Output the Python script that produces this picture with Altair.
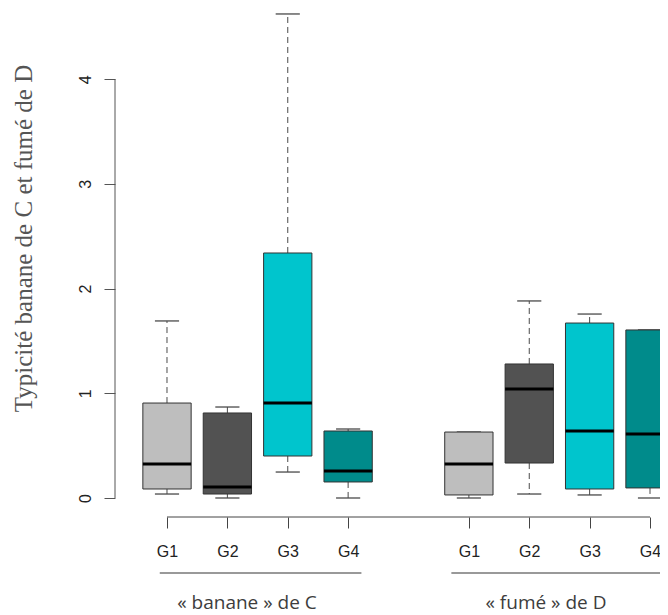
import altair as alt
import pandas as pd

# ---- data ----
groups = ["G1", "G2", "G3", "G4", "G1", "G2", "G3", "G4"]
positions = [1, 2, 3, 4, 6, 7, 8, 9]
lower_whisker = [0.038, 0.000, 0.248, 0.000, 0.000, 0.038, 0.029, 0.000]
q1 = [0.086, 0.038, 0.401, 0.153, 0.029, 0.334, 0.086, 0.096]
median = [0.325, 0.105, 0.907, 0.258, 0.325, 1.041, 0.640, 0.611]
q3 = [0.907, 0.812, 2.340, 0.640, 0.630, 1.280, 1.671, 1.605]
upper_whisker = [1.691, 0.869, 4.623, 0.659, 0.630, 1.882, 1.757, 1.605]
box_colors = ["#BEBEBE", "#525252", "#00C5CD", "#008B8B"] * 2

tick_labels = ["", "G1", "G2", "G3", "G4", "", "G1", "G2", "G3", "G4"]
y_ticks = [0, 1, 2, 3, 4]

block_names = ["« banane » de C", "« fumé » de D"]
block_centers = [2.325, 7.277]
block_line_start = [0.88, 5.71]
block_line_end = [4.22, 9.6]

half_box = 0.4
half_cap = 0.2

df = pd.DataFrame({
    "group": groups,
    "pos": positions,
    "lw": lower_whisker,
    "q1": q1,
    "med": median,
    "q3": q3,
    "uw": upper_whisker,
    "color": box_colors,
})
df["left"] = df["pos"] - half_box
df["right"] = df["pos"] + half_box
df["cl"] = df["pos"] - half_cap
df["cr"] = df["pos"] + half_cap

W, H = 545, 505
x_dom = [0.13872, 9.1656]
y_dom = [-0.1815, 4.6418]

xs = alt.Scale(domain=x_dom, nice=False, zero=False)
ys = alt.Scale(domain=y_dom, nice=False, zero=False)

label_expr = "[" + ",".join("'%s'" % t for t in tick_labels) + "][datum.value]"

base = alt.Chart(df)

boxes = base.mark_rect(stroke="#333333", strokeWidth=1).encode(
    x=alt.X("left:Q", scale=xs, axis=alt.Axis(
        values=positions, labelExpr=label_expr, domain=False, grid=False,
        tickSize=11, tickColor="#444444", tickWidth=1,
        labelFont="Liberation Sans", labelFontSize=16, labelColor="#222222",
        labelAngle=0, labelBaseline="top", labelPadding=15,
        labelFlush=False, labelOverlap=False, title=None)),
    x2="right:Q",
    y=alt.Y("q1:Q", scale=ys, axis=alt.Axis(
        values=y_ticks, format="d", domain=False, grid=False,
        tickSize=11, tickColor="#555555", tickWidth=1,
        labelFont="Liberation Sans", labelFontSize=16, labelColor="#222222",
        labelAngle=270, labelAlign="center", labelBaseline="alphabetic",
        labelPadding=14, labelFlush=False, labelOverlap=False,
        title="Typicité banane de C et fumé de D",
        titleFont="Liberation Serif", titleFontSize=25, titleFontWeight="normal",
        titleColor="#555555", titleAngle=270, titleAlign="center",
        titleBaseline="alphabetic", titleX=-84, titleY=226)),
    y2="q3:Q",
    fill=alt.Color("color:N", scale=None),
)

upper_dash = base.mark_rule(color="#4a4a4a", strokeWidth=1, strokeDash=[6, 4]).encode(
    x=alt.X("pos:Q", scale=xs), y=alt.Y("q3:Q", scale=ys), y2="uw:Q")
lower_dash = base.mark_rule(color="#4a4a4a", strokeWidth=1, strokeDash=[6, 4]).encode(
    x=alt.X("pos:Q", scale=xs), y=alt.Y("q1:Q", scale=ys), y2="lw:Q")
upper_cap = base.mark_rule(color="#4a4a4a", strokeWidth=1.3).encode(
    x=alt.X("cl:Q", scale=xs), x2="cr:Q", y=alt.Y("uw:Q", scale=ys))
lower_cap = base.mark_rule(color="#4a4a4a", strokeWidth=1.3).encode(
    x=alt.X("cl:Q", scale=xs), x2="cr:Q", y=alt.Y("lw:Q", scale=ys))
medians = base.mark_rule(color="#000000", strokeWidth=3).encode(
    x=alt.X("left:Q", scale=xs), x2="right:Q", y=alt.Y("med:Q", scale=ys))

yaxis_df = pd.DataFrame({"a": [y_ticks[0]], "b": [y_ticks[-1]]})
y_line = alt.Chart(yaxis_df).mark_rule(color="#555555", strokeWidth=1).encode(
    x=alt.value(0), y=alt.Y("a:Q", scale=ys), y2="b:Q")

xaxis_df = pd.DataFrame({"a": [positions[0]], "b": [positions[-1]]})
x_line = alt.Chart(xaxis_df).mark_rule(color="#444444", strokeWidth=1).encode(
    x=alt.X("a:Q", scale=xs), x2="b:Q", y=alt.value(H))

blocks = pd.DataFrame({"name": block_names, "c": block_centers,
                       "s": block_line_start, "e": block_line_end})
block_lines = alt.Chart(blocks).mark_rule(color="#777777", strokeWidth=1.5).encode(
    x=alt.X("s:Q", scale=xs), x2="e:Q", y=alt.value(561))
block_text = alt.Chart(blocks).mark_text(
    font="Open Sans", fontSize=19, color="#3d3d3d", align="center",
    baseline="alphabetic").encode(
    x=alt.X("c:Q", scale=xs), y=alt.value(597), text="name:N")

chart = alt.layer(
    upper_dash, lower_dash, upper_cap, lower_cap, boxes, medians,
    y_line, x_line, block_lines, block_text
).properties(
    width=W, height=H,
    autosize=alt.AutoSizeParams(type="none"),
    padding={"left": 107, "top": 4, "right": 0, "bottom": 98},
    background="white",
).configure_view(stroke=None)

chart.save("out.html", embed_options={"renderer": "svg", "actions": False})
